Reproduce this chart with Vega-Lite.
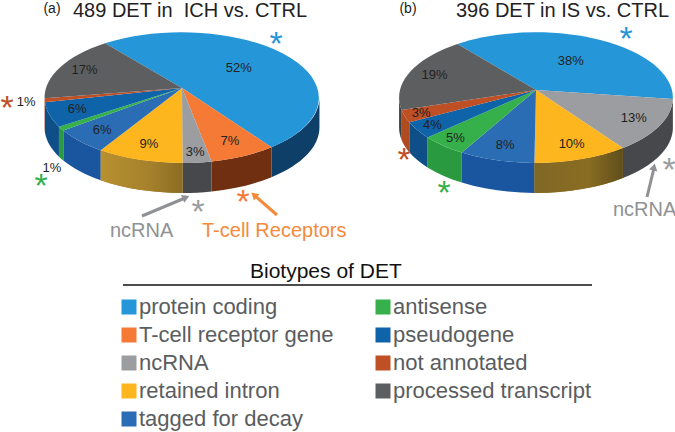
{"$schema":"https://vega.github.io/schema/vega-lite/v6.json","width":675,"height":432,"padding":0,"autosize":{"type":"fit","contains":"padding"},"background":"white","config":{"view":{"stroke":null},"text":{"font":"Liberation Sans","baseline":"alphabetic"}},
"data":{"values":[
{"panel":"a","order":1,"biotype":"protein coding","percent":52},
{"panel":"a","order":2,"biotype":"T-cell receptor gene","percent":7},
{"panel":"a","order":3,"biotype":"ncRNA","percent":3},
{"panel":"a","order":4,"biotype":"retained intron","percent":9},
{"panel":"a","order":5,"biotype":"tagged for decay","percent":6},
{"panel":"a","order":6,"biotype":"antisense","percent":1},
{"panel":"a","order":7,"biotype":"pseudogene","percent":6},
{"panel":"a","order":8,"biotype":"not annotated","percent":1},
{"panel":"a","order":9,"biotype":"processed transcript","percent":17},
{"panel":"b","order":1,"biotype":"protein coding","percent":38},
{"panel":"b","order":3,"biotype":"ncRNA","percent":13},
{"panel":"b","order":4,"biotype":"retained intron","percent":10},
{"panel":"b","order":5,"biotype":"tagged for decay","percent":8},
{"panel":"b","order":6,"biotype":"antisense","percent":5},
{"panel":"b","order":7,"biotype":"pseudogene","percent":4},
{"panel":"b","order":8,"biotype":"not annotated","percent":3},
{"panel":"b","order":9,"biotype":"processed transcript","percent":19}
]},
"transform":[
{"window":[{"op":"sum","field":"percent","as":"cum"}],"groupby":["panel"],"sort":[{"field":"order","order":"ascending"}]},
{"joinaggregate":[{"op":"sum","field":"percent","as":"total"}],"groupby":["panel"]},
{"calculate":"datum.panel=='a'?180:534","as":"ax"},
{"calculate":"datum.panel=='a'?88:90","as":"ay"},
{"calculate":"datum.panel=='a'?0.145:0.1145","as":"p"},
{"calculate":"datum.panel=='a'?64.1:64.6","as":"B"},
{"calculate":"datum.panel=='a'?8.5:6.6","as":"tmin"},
{"calculate":"180-datum.tmin","as":"tmax"},
{"calculate":"(-129+360*(datum.cum-datum.percent)/datum.total)*PI/180","as":"a0"},
{"calculate":"(-129+360*datum.cum/datum.total)*PI/180","as":"a1"},
{"calculate":"max(datum.a0,datum.tmin*PI/180)","as":"w0"},
{"calculate":"min(datum.a1,datum.tmax*PI/180)","as":"w1"},
{"calculate":"round(136*cos(datum.a0)/(1-datum.p*sin(datum.a0))*100)/100+','+round(datum.B*sin(datum.a0)/(1-datum.p*sin(datum.a0))*100)/100","as":"p0"},
{"calculate":"round(136*cos(datum.a1)/(1-datum.p*sin(datum.a1))*100)/100+','+round(datum.B*sin(datum.a1)/(1-datum.p*sin(datum.a1))*100)/100","as":"p1"},
{"calculate":"'M0,0L'+datum.p0+'A137.5,65.5 0 0 1 '+datum.p1+'Z'","as":"topPath"},
{"calculate":"round(136*cos(datum.w0)/(1-datum.p*sin(datum.w0))*100)/100","as":"wx0"},
{"calculate":"round(datum.B*sin(datum.w0)/(1-datum.p*sin(datum.w0))*100)/100","as":"wy0"},
{"calculate":"round(136*cos(datum.w1)/(1-datum.p*sin(datum.w1))*100)/100","as":"wx1"},
{"calculate":"round(datum.B*sin(datum.w1)/(1-datum.p*sin(datum.w1))*100)/100","as":"wy1"},
{"calculate":"'M'+datum.wx0+','+datum.wy0+'A137.5,65.5 0 0 1 '+datum.wx1+','+datum.wy1+'L'+datum.wx1+','+(datum.wy1+30)+'A137.5,65.5 0 0 0 '+datum.wx0+','+(datum.wy0+30)+'Z'","as":"wallPath"},
{"calculate":"(datum.a0+datum.a1)/2","as":"mid"},
{"calculate":"datum.percent>=30?0.55:datum.percent<=1?1.13:datum.percent<=5?0.88:0.8","as":"lr"},
{"calculate":"(datum.panel=='a'&&datum.biotype=='antisense')?50:datum.ax+136*datum.lr*cos(datum.mid)/(1-datum.p*datum.lr*sin(datum.mid))","as":"lx"},
{"calculate":"(datum.panel=='a'&&datum.biotype=='antisense')?168:datum.ay+datum.B*datum.lr*sin(datum.mid)/(1-datum.p*datum.lr*sin(datum.mid))","as":"ly"},
{"calculate":"datum.percent+'%'","as":"plabel"}
],
"layer":[
{"transform":[{"filter":"datum.w1>datum.w0"}],
 "mark":{"type":"point","filled":true,"opacity":1,"size":4,"strokeWidth":0},
 "encoding":{
  "x":{"field":"ax","type":"quantitative","scale":null,"axis":null},
  "y":{"field":"ay","type":"quantitative","scale":null,"axis":null},
  "shape":{"field":"wallPath","type":"nominal","scale":null,"legend":null},
  "fill":{"field":"biotype","type":"nominal","legend":null,"scale":{
   "domain":["processed transcript","not annotated","pseudogene","antisense","tagged for decay","retained intron","ncRNA","T-cell receptor gene","protein coding"],
   "range":["#3d3e40","#b04a1f","#0e4f88","#2a9a40","#1a55a0","#a98230","#46484b","#6f2f10","#0d3f68"]}}
 }},
{"transform":[{"filter":"datum.biotype=='retained intron'&&datum.panel=='a'"}],
 "mark":{"type":"point","filled":true,"opacity":1,"size":4,"strokeWidth":0,"fill":{"gradient":"linear","x1":0,"x2":1,"y1":0,"y2":0,"stops":[{"offset":0,"color":"#b8902f"},{"offset":0.6,"color":"#a5812c"},{"offset":1,"color":"#8c6c24"}]}},
 "encoding":{
  "x":{"field":"ax","type":"quantitative","scale":null,"axis":null},
  "y":{"field":"ay","type":"quantitative","scale":null,"axis":null},
  "shape":{"field":"wallPath","type":"nominal","scale":null,"legend":null}
 }},
{"transform":[{"filter":"datum.biotype=='retained intron'&&datum.panel=='b'"}],
 "mark":{"type":"point","filled":true,"opacity":1,"size":4,"strokeWidth":0,"fill":{"gradient":"linear","x1":0,"x2":1,"y1":0,"y2":0,"stops":[{"offset":0,"color":"#7f6725"},{"offset":0.6,"color":"#8a6d22"},{"offset":1,"color":"#5f4e1c"}]}},
 "encoding":{
  "x":{"field":"ax","type":"quantitative","scale":null,"axis":null},
  "y":{"field":"ay","type":"quantitative","scale":null,"axis":null},
  "shape":{"field":"wallPath","type":"nominal","scale":null,"legend":null}
 }},
{"mark":{"type":"point","filled":true,"opacity":1,"size":4,"strokeWidth":0},
 "encoding":{
  "x":{"field":"ax","type":"quantitative","scale":null,"axis":null},
  "y":{"field":"ay","type":"quantitative","scale":null,"axis":null},
  "shape":{"field":"topPath","type":"nominal","scale":null,"legend":null},
  "color":{"field":"biotype","type":"nominal","scale":{
   "domain":["protein coding","T-cell receptor gene","ncRNA","retained intron","tagged for decay","antisense","pseudogene","not annotated","processed transcript"],
   "range":["#2596d7","#f47a36","#9b9da0","#fdb61e","#2a6db5","#35b04a","#0f63a8","#bf4f24","#5d5e60"]},
   "legend":{"orient":"none","legendX":116,"legendY":296,"title":null,"columns":2,"columnPadding":38,"rowPadding":6,"symbolType":"square","symbolSize":225,"symbolStrokeWidth":0,"symbolOpacity":1,"labelFont":"Liberation Sans","labelFontSize":22,"labelColor":"#5a5d60","labelOffset":-1,"labelLimit":300,"clipHeight":22}}
 }},
{"mark":{"type":"text","align":"center","baseline":"middle","fontSize":13,"color":"#222222"},
 "encoding":{
  "x":{"field":"lx","type":"quantitative","scale":null,"axis":null},
  "y":{"field":"ly","type":"quantitative","scale":null,"axis":null},
  "text":{"field":"plabel","type":"nominal"}
 }},
{"data":{"values":[{}]},"transform":[],"layer":[
 {"mark":{"type":"text","baseline":"alphabetic","text":"(a)","x":50,"y":13,"fontSize":14,"align":"center","color":"#222222"}},
 {"mark":{"type":"text","baseline":"alphabetic","text":"489 DET in\u00a0 ICH vs. CTRL","x":71,"y":17,"fontSize":20,"align":"left","color":"#222222"}},
 {"mark":{"type":"text","baseline":"alphabetic","text":"(b)","x":406,"y":13,"fontSize":14,"align":"center","color":"#222222"}},
 {"mark":{"type":"text","baseline":"alphabetic","text":"396 DET in IS vs. CTRL","x":454,"y":17,"fontSize":20,"align":"left","color":"#222222"}},
 {"mark":{"type":"text","baseline":"alphabetic","text":"ncRNA","x":108,"y":237,"fontSize":20,"align":"left","color":"#8f9194"}},
 {"mark":{"type":"text","baseline":"alphabetic","text":"T-cell Receptors","x":200,"y":237,"fontSize":20,"align":"left","color":"#f58a3c"}},
 {"mark":{"type":"text","baseline":"alphabetic","text":"ncRNA","x":611,"y":216,"fontSize":20,"align":"left","color":"#8f9194"}},
 {"mark":{"type":"text","baseline":"alphabetic","text":"Biotypes of DET","x":248,"y":278,"fontSize":21,"align":"left","color":"#111111"}},
 {"mark":{"type":"rule","stroke":"#111111","strokeWidth":1.5},"encoding":{"x":{"value":121},"x2":{"value":590},"y":{"value":285},"y2":{"value":285}}},
 {"mark":{"type":"rule","stroke":"#8f9194","strokeWidth":3},"encoding":{"x":{"value":140},"x2":{"value":183},"y":{"value":216},"y2":{"value":198}}},
 {"mark":{"type":"point","shape":"triangle-up","filled":true,"opacity":1,"size":70,"angle":67,"color":"#8f9194"},"encoding":{"x":{"value":184},"y":{"value":197.5}}},
 {"mark":{"type":"rule","stroke":"#f58a3c","strokeWidth":3},"encoding":{"x":{"value":275},"x2":{"value":252},"y":{"value":215},"y2":{"value":195}}},
 {"mark":{"type":"point","shape":"triangle-up","filled":true,"opacity":1,"size":70,"angle":-48,"color":"#f58a3c"},"encoding":{"x":{"value":252},"y":{"value":195}}},
 {"mark":{"type":"rule","stroke":"#8f9194","strokeWidth":3},"encoding":{"x":{"value":645},"x2":{"value":652},"y":{"value":197},"y2":{"value":168}}},
 {"mark":{"type":"point","shape":"triangle-up","filled":true,"opacity":1,"size":70,"angle":13,"color":"#8f9194"},"encoding":{"x":{"value":652},"y":{"value":167}}},
 {"mark":{"type":"text","baseline":"alphabetic","text":"*","x":274,"y":55,"fontSize":34,"align":"center","color":"#2596d7"}},
 {"mark":{"type":"text","baseline":"alphabetic","text":"*","x":241,"y":213,"fontSize":34,"align":"center","color":"#f47a36"}},
 {"mark":{"type":"text","baseline":"alphabetic","text":"*","x":196,"y":223,"fontSize":34,"align":"center","color":"#9b9da0"}},
 {"mark":{"type":"text","baseline":"alphabetic","text":"*","x":5,"y":119,"fontSize":34,"align":"center","color":"#bf4f24"}},
 {"mark":{"type":"text","baseline":"alphabetic","text":"*","x":39,"y":197,"fontSize":34,"align":"center","color":"#35b04a"}},
 {"mark":{"type":"text","baseline":"alphabetic","text":"*","x":624,"y":50,"fontSize":34,"align":"center","color":"#2596d7"}},
 {"mark":{"type":"text","baseline":"alphabetic","text":"*","x":667,"y":181,"fontSize":34,"align":"center","color":"#9b9da0"}},
 {"mark":{"type":"text","baseline":"alphabetic","text":"*","x":402,"y":171,"fontSize":34,"align":"center","color":"#bf4f24"}},
 {"mark":{"type":"text","baseline":"alphabetic","text":"*","x":442,"y":204,"fontSize":34,"align":"center","color":"#35b04a"}}
]}
]}
